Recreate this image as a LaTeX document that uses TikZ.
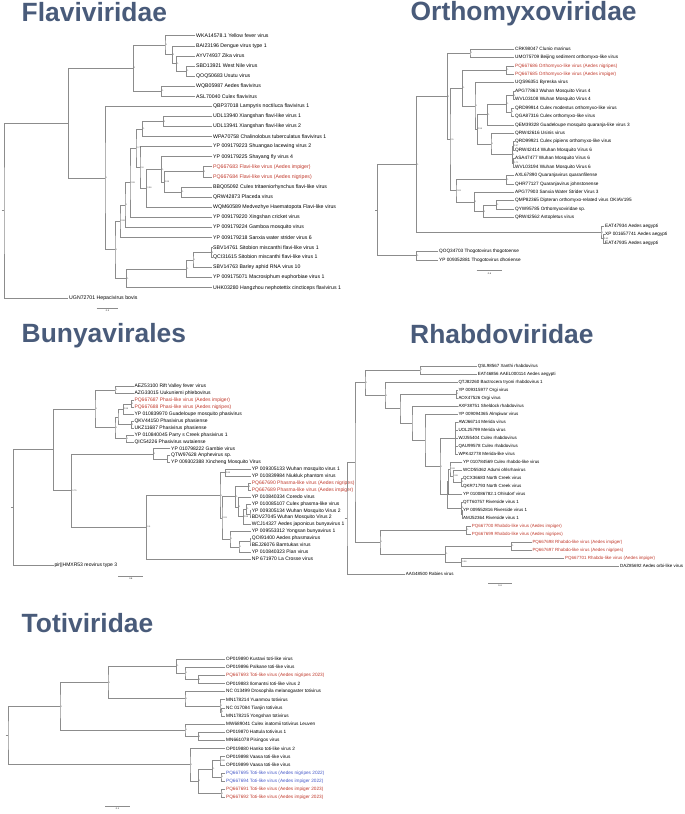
\documentclass[tikz,border=0pt]{standalone}
\usepackage{fontspec}
\setmainfont{Liberation Sans}
\definecolor{titleblue}{RGB}{73,91,122}
\definecolor{branchgray}{RGB}{140,140,140}
\definecolor{aedesred}{RGB}{192,57,43}
\definecolor{aedesblue}{RGB}{70,90,200}
\tikzset{
  branch/.style={draw=branchgray, line width=0.55pt},
  tip/.style={anchor=west, inner sep=0.6pt},
  redtip/.style={tip, text=aedesred},
  bluetip/.style={tip, text=aedesblue},
  supp/.style={anchor=west, inner sep=0.4pt, font=\fontsize{2.2}{2.2}\selectfont, text=black!70},
  scalelab/.style={anchor=north, inner sep=0.6pt, font=\fontsize{2.2}{2.2}\selectfont},
  famtitle/.style={anchor=base west, inner sep=0pt, text=titleblue, font=\fontsize{26.4}{30}\selectfont\bfseries}
}
\begin{document}
\begin{tikzpicture}[x=1pt, y=-1pt]
    \useasboundingbox (0,0) rectangle (685,814);
    \node[famtitle] (tflavi) at (21.5,21.7) {Flaviviridae};
    \node[famtitle] (tortho) at (410.5,20.9) {Orthomyxoviridae};
    \node[famtitle] (tbunya) at (21.5,342.3) {Bunyavirales};
    \node[famtitle] (trhabdo) at (410,343) {Rhabdoviridae};
    \node[famtitle] (ttoti) at (21.5,632) {Totiviridae};

    \begin{scope}[font=\fontsize{5.2}{6}\selectfont]
        \node[tip] (f1) at (195.4,35.7) {WKA14578.1 Yellow fever virus};
        \node[tip] (f2) at (195.4,45.8) {BAI23196 Dengue virus type 1};
        \node[tip] (f3) at (195.4,55.9) {AYV74937 Zika virus};
        \node[tip] (f4) at (195.4,65.9) {SBD13921 West Nile virus};
        \node[tip] (f5) at (195.4,76.0) {QOQ50683 Usutu virus};
        \node[tip] (f6) at (195.4,86.1) {WQB05987 Aedes flavivirus};
        \node[tip] (f7) at (195.4,96.2) {ASL70040 Culex flavivirus};
        \node[tip] (f8) at (212.4,106.3) {QBP37018 Lampyris noctiluca flavivirus 1};
        \node[tip] (f9) at (212.4,116.3) {UDL13940 Xiangshan flavi-like virus 1};
        \node[tip] (f10) at (212.4,126.4) {UDL13941 Xiangshan flavi-like virus 2};
        \node[tip] (f11) at (212.4,136.5) {WPA70758 Chalinolobus tuberculatus flavivirus 1};
        \node[tip] (f12) at (212.4,146.6) {YP 009179223 Shuangao lacewing virus 2};
        \node[tip] (f13) at (212.4,156.7) {YP 009179225 Shayang fly virus 4};
        \node[redtip] (f14) at (212.4,166.7) {PQ667683 Flavi-like virus (Aedes impiger)};
        \node[redtip] (f15) at (212.4,176.8) {PQ667684 Flavi-like virus (Aedes nigripes)};
        \node[tip] (f16) at (212.4,186.9) {BBQ05092 Culex tritaeniorhynchus flavi-like virus};
        \node[tip] (f17) at (212.4,197.0) {QRW42873 Placeda virus};
        \node[tip] (f18) at (212.4,207.1) {WQM60589 Medvezhye Haematopota Flavi-like virus};
        \node[tip] (f19) at (212.4,217.1) {YP 009179220 Xingshan cricket virus};
        \node[tip] (f20) at (212.4,227.2) {YP 009179224 Gamboa mosquito virus};
        \node[tip] (f21) at (212.4,237.3) {YP 009179218 Sanxia water strider virus 6};
        \node[tip] (f22) at (212.4,247.4) {SBV14761 Sitobion miscanthi flavi-like virus 1};
        \node[tip] (f23) at (212.4,257.5) {QCI31615 Sitobion miscanthi flavi-like virus 1};
        \node[tip] (f24) at (212.4,267.5) {SBV14763 Barley aphid RNA virus 10};
        \node[tip] (f25) at (212.4,277.6) {YP 009175071 Macrosiphum euphorbiae virus 1};
        \node[tip] (f26) at (212.4,287.7) {UHK03280 Hangzhou nephotettix cincticeps flavivirus 1};
        \node[tip] (f27) at (68.4,297.8) {UGN72701 Hepacivirus bovis};
    \end{scope}
    \coordinate (fc45) at (186.7,70.95);
    \coordinate (fc35) at (176.7,63.4);
    \coordinate (fc25) at (172.3,54.6);
    \coordinate (fc15) at (165,45.15);
    \coordinate (fc67) at (161.7,91.15);
    \coordinate (fcB) at (133.3,68.15);
    \coordinate (fc910) at (163.3,121.35);
    \coordinate (fcL) at (142.7,128.9);
    \coordinate (fc1415) at (203.3,171.75);
    \coordinate (fc1617) at (181.7,191.95);
    \coordinate (fcO) at (164.3,181.85);
    \coordinate (fcN) at (161.7,169.3);
    \coordinate (fcM) at (146.7,188.2);
    \coordinate (fcP) at (140,167.4);
    \coordinate (fcQ) at (136,148.15);
    \coordinate (fcJ) at (130,182.6);
    \coordinate (fcI) at (125,204.9);
    \coordinate (fcG) at (120,221.1);
    \coordinate (fc2223) at (211.5,252.45);
    \coordinate (fc2224) at (193,260);
    \coordinate (fc2225) at (186.7,268.8);
    \coordinate (fcH) at (126.7,278.25);
    \coordinate (fcF) at (115,249.7);
    \coordinate (fcC) at (105,178);
    \coordinate (fcA) at (68.3,123.1);
    \coordinate (froot) at (4,210.45);
    \coordinate (fstub) at (1.5,210.45);
    \draw[branch] (f4.west) -| (fc45) |- (f5.west);
    \draw[branch] (f3.west) -| (fc35) |- (fc45);
    \draw[branch] (f2.west) -| (fc25) |- (fc35);
    \draw[branch] (f1.west) -| (fc15) |- (fc25);
    \draw[branch] (f6.west) -| (fc67) |- (f7.west);
    \draw[branch] (fc15) -| (fcB) |- (fc67);
    \draw[branch] (f9.west) -| (fc910) |- (f10.west);
    \draw[branch] (fc910) -| (fcL) |- (f11.west);
    \draw[branch] (f14.west) -| (fc1415) |- (f15.west);
    \draw[branch] (f16.west) -| (fc1617) |- (f17.west);
    \draw[branch] (fc1415) -| (fcO) |- (fc1617);
    \draw[branch] (f13.west) -| (fcN) |- (fcO);
    \draw[branch] (fcN) -| (fcM) |- (f18.west);
    \draw[branch] (f12.west) -| (fcP) |- (fcM);
    \draw[branch] (fcL) -| (fcQ) |- (fcP);
    \draw[branch] (fcQ) -| (fcJ) |- (f19.west);
    \draw[branch] (fcJ) -| (fcI) |- (f20.west);
    \draw[branch] (fcI) -| (fcG) |- (f21.west);
    \draw[branch] (f22.west) -| (fc2223) |- (f23.west);
    \draw[branch] (fc2223) -| (fc2224) |- (f24.west);
    \draw[branch] (fc2224) -| (fc2225) |- (f25.west);
    \draw[branch] (fc2225) -| (fcH) |- (f26.west);
    \draw[branch] (fcG) -| (fcF) |- (fcH);
    \draw[branch] (f8.west) -| (fcC) |- (fcF);
    \draw[branch] (fcB) -| (fcA) |- (fcC);
    \draw[branch] (fcA) -| (froot) |- (f27.west);
    \draw[branch] (fstub) -- (froot);
    \node[supp] at (fc45) {1};
    \node[supp] at (fc35) {1};
    \node[supp] at (fc25) {1};
    \node[supp] at (fc15) {1};
    \node[supp] at (fc67) {1};
    \node[supp] at (fcB) {1};
    \node[supp] at (fc910) {1};
    \node[supp] at (fcL) {1};
    \node[supp] at (fcQ) {0.73};
    \node[supp] at (fcP) {0.8};
    \node[supp] at (fcM) {0.96};
    \node[supp] at (fcN) {1};
    \node[supp] at (fcO) {0.99};
    \node[supp] at (fc1415) {1};
    \node[supp] at (fc1617) {1};
    \node[supp] at (fcJ) {0.99};
    \node[supp] at (fcI) {1};
    \node[supp] at (fcG) {0.98};
    \node[supp] at (fc2223) {1};
    \node[supp] at (fc2224) {1};
    \node[supp] at (fc2225) {1};
    \node[supp] at (fcH) {1};
    \node[supp] at (fcF) {1};
    \node[supp] at (fcC) {1};
    \coordinate (fs1) at (96.7,308.3);
    \coordinate (fs2) at (118.3,308.3);
    \draw[branch] (fs1) -- (fs2);
    \node[scalelab] at (107.5,309.3) {0.3};

    \begin{scope}[font=\fontsize{4.7}{5.5}\selectfont]
        \node[tip] (o1) at (514.4,49.0) {CRK98047 Clunio marinus};
        \node[tip] (o2) at (514.4,57.4) {UMO75709 Beijing sediment orthomyxo-like virus};
        \node[redtip] (o3) at (514.4,65.9) {PQ667686 Orthomyxo-like virus (Aedes nigripes)};
        \node[redtip] (o4) at (514.4,74.3) {PQ667685 Orthomyxo-like virus (Aedes impiger)};
        \node[tip] (o5) at (514.4,82.7) {UQS96351 Byreska virus};
        \node[tip] (o6) at (514.4,91.2) {APG77863 Wuhan Mosquito Virus 4};
        \node[tip] (o7) at (514.4,99.6) {WVL03108 Wuhan Mosquito Virus 4};
        \node[tip] (o8) at (514.4,108.0) {QRD99914 Culex modestus orthomyxo-like virus};
        \node[tip] (o9) at (514.4,116.4) {QGA87316 Culex orthomyxo-like virus};
        \node[tip] (o10) at (514.4,124.9) {QEM39328 Guadeloupe mosquito quaranja-like virus 3};
        \node[tip] (o11) at (514.4,133.3) {QRW42616 Usinis virus};
        \node[tip] (o12) at (514.4,141.7) {QRD99921 Culex pipiens orthomyxo-like virus};
        \node[tip] (o13) at (514.4,150.2) {QRW42414 Wuhan Mosquito Virus 6};
        \node[tip] (o14) at (514.4,158.6) {ASA47477 Wuhan Mosquito Virus 6};
        \node[tip] (o15) at (514.4,167.0) {WVL03194 Wuhan Mosquito Virus 6};
        \node[tip] (o16) at (514.4,175.5) {AXL67890 Quaranjavirus quaranfilense};
        \node[tip] (o17) at (514.4,183.9) {QHR77127 Quaranjavirus johnstonense};
        \node[tip] (o18) at (514.4,192.3) {APG77903 Sanxia Water Strider Virus 3};
        \node[tip] (o19) at (514.4,200.7) {QMP82365 Dipteran orthomyxo-related virus OKIAV195};
        \node[tip] (o20) at (514.4,209.2) {QYW95785 Orthomyxoviridae sp.};
        \node[tip] (o21) at (514.4,217.6) {QRW42562 Astopletus virus};
        \node[tip] (o22) at (604.4,226.0) {EAT47934 Aedes aegypti};
        \node[tip] (o23) at (604.4,234.5) {XP 001657741 Aedes aegypti};
        \node[tip] (o24) at (604.4,242.9) {EAT47935 Aedes aegypti};
        \node[tip] (o25) at (438.4,251.3) {QOQ34703 Thogotovirus thogotoense};
        \node[tip] (o26) at (438.4,259.8) {YP 009352881 Thogotovirus dhoriense};
    \end{scope}
    \coordinate (oc12) at (470,53.2);
    \coordinate (oc34) at (506.7,70.1);
    \coordinate (oc67) at (513.5,95.4);
    \coordinate (oc89) at (511,112.2);
    \coordinate (oc69) at (506.7,103.8);
    \coordinate (ocH) at (487.7,114.35);
    \coordinate (oc1213) at (513.5,145.95);
    \coordinate (oc1415) at (513.5,162.8);
    \coordinate (oc1215) at (512.5,154.4);
    \coordinate (ocK) at (491,143.85);
    \coordinate (ocG) at (477.3,129.1);
    \coordinate (ocF) at (475,105.9);
    \coordinate (ocE) at (462.7,88);
    \coordinate (oc1617) at (506.7,179.7);
    \coordinate (oc1920) at (496.7,204.95);
    \coordinate (ocS) at (483.3,211.3);
    \coordinate (ocR) at (474.3,201.8);
    \coordinate (ocP) at (456,190.75);
    \coordinate (ocD) at (450,139.4);
    \coordinate (ocB) at (447.3,96.3);
    \coordinate (oc2324) at (603.5,238.7);
    \coordinate (ocAe) at (601,232.35);
    \coordinate (ocA) at (416.7,164.3);
    \coordinate (ocT) at (416.7,255.55);
    \coordinate (oroot) at (377.7,209.9);
    \coordinate (ostub) at (375.2,209.9);
    \draw[branch] (o1.west) -| (oc12) |- (o2.west);
    \draw[branch] (o3.west) -| (oc34) |- (o4.west);
    \draw[branch] (o6.west) -| (oc67) |- (o7.west);
    \draw[branch] (o8.west) -| (oc89) |- (o9.west);
    \draw[branch] (oc67) -| (oc69) |- (oc89);
    \draw[branch] (oc69) -| (ocH) |- (o10.west);
    \draw[branch] (o12.west) -| (oc1213) |- (o13.west);
    \draw[branch] (o14.west) -| (oc1415) |- (o15.west);
    \draw[branch] (oc1213) -| (oc1215) |- (oc1415);
    \draw[branch] (o11.west) -| (ocK) |- (oc1215);
    \draw[branch] (ocH) -| (ocG) |- (ocK);
    \draw[branch] (o5.west) -| (ocF) |- (ocG);
    \draw[branch] (oc34) -| (ocE) |- (ocF);
    \draw[branch] (o16.west) -| (oc1617) |- (o17.west);
    \draw[branch] (o19.west) -| (oc1920) |- (o20.west);
    \draw[branch] (oc1920) -| (ocS) |- (o21.west);
    \draw[branch] (o18.west) -| (ocR) |- (ocS);
    \draw[branch] (oc1617) -| (ocP) |- (ocR);
    \draw[branch] (ocE) -| (ocD) |- (ocP);
    \draw[branch] (oc12) -| (ocB) |- (ocD);
    \draw[branch] (o23.west) -| (oc2324) |- (o24.west);
    \draw[branch] (o22.west) -| (ocAe) |- (oc2324);
    \draw[branch] (ocB) -| (ocA) |- (ocAe);
    \draw[branch] (o25.west) -| (ocT) |- (o26.west);
    \draw[branch] (ocA) -| (oroot) |- (ocT);
    \draw[branch] (ostub) -- (oroot);
    \node[supp] at (oc12) {1};
    \node[supp] at (oc34) {1};
    \node[supp] at (oc67) {1};
    \node[supp] at (oc89) {1};
    \node[supp] at (oc69) {1};
    \node[supp] at (ocH) {1};
    \node[supp] at (oc1213) {0.97};
    \node[supp] at (oc1415) {0.71};
    \node[supp] at (oc1215) {1};
    \node[supp] at (ocK) {1};
    \node[supp] at (ocG) {0.59};
    \node[supp] at (ocF) {1};
    \node[supp] at (ocE) {1};
    \node[supp] at (oc1617) {1};
    \node[supp] at (oc1920) {1};
    \node[supp] at (ocS) {1};
    \node[supp] at (ocR) {1};
    \node[supp] at (ocP) {0.63};
    \node[supp] at (ocD) {0.5};
    \node[supp] at (ocB) {1};
    \node[supp] at (oc2324) {0.62};
    \node[supp] at (ocAe) {1};
    \node[supp] at (ocA) {1};
    \node[supp] at (ocT) {1};
    \coordinate (os1) at (476.7,270.7);
    \coordinate (os2) at (502.3,270.7);
    \draw[branch] (os1) -- (os2);
    \node[scalelab] at (489.5,271.7) {0.6};

    \begin{scope}[font=\fontsize{5}{5.5}\selectfont]
        \node[tip] (b1) at (133.7,386.7) {AEZ53100 Rift Valley fever virus};
        \node[tip] (b2) at (133.7,393.6) {AZG33015 Uukuniemi phlebovirus};
        \node[redtip] (b3) at (133.7,400.5) {PQ667687 Phasi-like virus (Aedes impiger)};
        \node[redtip] (b4) at (133.7,407.4) {PQ667688 Phasi-like virus (Aedes nigripes)};
        \node[tip] (b5) at (133.7,414.2) {YP 010839970 Guadeloupe mosquito phasivirus};
        \node[tip] (b6) at (133.7,421.1) {QKV44150 Phasivirus phasiense};
        \node[tip] (b7) at (133.7,428.0) {UKZ11687 Phasivirus phasiense};
        \node[tip] (b8) at (133.7,434.9) {YP 010840045 Parry s Creek phasivirus 1};
        \node[tip] (b9) at (133.7,441.8) {QIC54226 Phasivirus wutaiense};
        \node[tip] (b10) at (170.4,448.7) {YP 010798222 Gambie virus};
        \node[tip] (b11) at (170.4,455.6) {QTW97628 Anphevirus sp.};
        \node[tip] (b12) at (170.4,462.4) {YP 009302388 Xincheng Mosquito Virus};
        \node[tip] (b13) at (251.1,469.3) {YP 009305133 Wuhan mosquito virus 1};
        \node[tip] (b14) at (251.1,476.2) {YP 010839984 Niukluk phantom virus};
        \node[redtip] (b15) at (251.1,483.1) {PQ667690 Phasma-like virus (Aedes nigripes)};
        \node[redtip] (b16) at (251.1,490.0) {PQ667689 Phasma-like virus (Aedes impiger)};
        \node[tip] (b17) at (251.1,496.9) {YP 010840334 Coredo virus};
        \node[tip] (b18) at (251.1,503.8) {YP 010085107 Culex phasma-like virus};
        \node[tip] (b19) at (251.1,510.7) {YP 009305134 Wuhan Mosquito Virus 2};
        \node[tip] (b20) at (251.1,517.5) {BDV27045 Wuhan Mosquito Virus 2};
        \node[tip] (b21) at (251.1,524.4) {WCJ14327 Aedes japonicus bunyavirus 1};
        \node[tip] (b22) at (251.1,531.3) {YP 009553312 Yongsan bunyavirus 1};
        \node[tip] (b23) at (251.1,538.2) {QOI91400 Aedes phasmavirus};
        \node[tip] (b24) at (251.1,545.1) {BEJ26076 Bamtukas virus};
        \node[tip] (b25) at (251.1,552.0) {YP 010840323 Pian virus};
        \node[tip] (b26) at (251.1,558.8) {NP 671970 La Crosse virus};
        \node[tip] (b27) at (53.7,565.7) {pir||HMXR53 reovirus type 3};
    \end{scope}
    \coordinate (bc12) at (115,390.15);
    \coordinate (bc34) at (131.5,403.95);
    \coordinate (bcF) at (123.3,409.1);
    \coordinate (bc67) at (131.5,424.55);
    \coordinate (bcE) at (118,416.8);
    \coordinate (bc89) at (126,438.35);
    \coordinate (bcD) at (115,427.6);
    \coordinate (bcB) at (95,408.9);
    \coordinate (bc1112) at (167.7,459);
    \coordinate (bcG) at (153.3,453.85);
    \coordinate (bc1314) at (225.3,472.75);
    \coordinate (bc1516) at (248.3,486.55);
    \coordinate (bc1920) at (250,514.1);
    \coordinate (bcT) at (246.7,508.95);
    \coordinate (bcS) at (243.3,516.7);
    \coordinate (bcO) at (238.3,506.8);
    \coordinate (bcL) at (235.7,496.7);
    \coordinate (bc2324) at (250,541.65);
    \coordinate (bcN) at (239,546.8);
    \coordinate (bcM) at (230,539.05);
    \coordinate (bcK) at (222,517.9);
    \coordinate (bcI) at (220,495.3);
    \coordinate (bcH) at (146.7,527.05);
    \coordinate (bcC) at (71.7,490.45);
    \coordinate (bcA) at (53.3,449.7);
    \coordinate (broot) at (13.3,507.7);
    \coordinate (bstub) at (10.8,507.7);
    \draw[branch] (b1.west) -| (bc12) |- (b2.west);
    \draw[branch] (b3.west) -| (bc34) |- (b4.west);
    \draw[branch] (bc34) -| (bcF) |- (b5.west);
    \draw[branch] (b6.west) -| (bc67) |- (b7.west);
    \draw[branch] (bcF) -| (bcE) |- (bc67);
    \draw[branch] (b8.west) -| (bc89) |- (b9.west);
    \draw[branch] (bcE) -| (bcD) |- (bc89);
    \draw[branch] (bc12) -| (bcB) |- (bcD);
    \draw[branch] (b11.west) -| (bc1112) |- (b12.west);
    \draw[branch] (b10.west) -| (bcG) |- (bc1112);
    \draw[branch] (b13.west) -| (bc1314) |- (b14.west);
    \draw[branch] (b15.west) -| (bc1516) |- (b16.west);
    \draw[branch] (b19.west) -| (bc1920) |- (b20.west);
    \draw[branch] (b18.west) -| (bcT) |- (bc1920);
    \draw[branch] (bcT) -| (bcS) |- (b21.west);
    \draw[branch] (b17.west) -| (bcO) |- (bcS);
    \draw[branch] (bc1516) -| (bcL) |- (bcO);
    \draw[branch] (b23.west) -| (bc2324) |- (b24.west);
    \draw[branch] (bc2324) -| (bcN) |- (b25.west);
    \draw[branch] (b22.west) -| (bcM) |- (bcN);
    \draw[branch] (bcL) -| (bcK) |- (bcM);
    \draw[branch] (bc1314) -| (bcI) |- (bcK);
    \draw[branch] (bcI) -| (bcH) |- (b26.west);
    \draw[branch] (bcG) -| (bcC) |- (bcH);
    \draw[branch] (bcB) -| (bcA) |- (bcC);
    \draw[branch] (bcA) -| (broot) |- (b27.west);
    \draw[branch] (bstub) -- (broot);
    \node[supp] at (bc12) {1};
    \node[supp] at (bc34) {1};
    \node[supp] at (bcF) {0.98};
    \node[supp] at (bc67) {1};
    \node[supp] at (bc89) {1};
    \node[supp] at (bcD) {1};
    \node[supp] at (bcB) {1};
    \node[supp] at (bcG) {1};
    \node[supp] at (bc1314) {0.99};
    \node[supp] at (bc1516) {1};
    \node[supp] at (bcT) {1};
    \node[supp] at (bcS) {0.88};
    \node[supp] at (bcO) {1};
    \node[supp] at (bcL) {1};
    \node[supp] at (bcN) {1};
    \node[supp] at (bcM) {1};
    \node[supp] at (bcK) {0.93};
    \node[supp] at (bcI) {1};
    \node[supp] at (bcH) {0.6};
    \node[supp] at (bcC) {0.75};
    \coordinate (bs1) at (118.3,576);
    \coordinate (bs2) at (143.3,576);
    \draw[branch] (bs1) -- (bs2);
    \node[scalelab] at (130.8,577) {0.8};

    \begin{scope}[font=\fontsize{4.47}{5}\selectfont]
        \node[tip] (r1) at (477.1,366) {QSL98567 Xanthi rhabdovirus};
        \node[tip] (r2) at (477.1,374) {EAT46856 AAEL000114 Aedes aegypti};
        \node[tip] (r3) at (457.7,382) {QTJ82260 Bactrocera tryoni rhabdovirus 1};
        \node[tip] (r4) at (457.7,390) {YP 009315977 Orgi virus};
        \node[tip] (r5) at (457.7,398) {AOX47526 Orgi virus};
        \node[tip] (r6) at (457.7,406) {AXF38751 Sheldock rhabdovirus};
        \node[tip] (r7) at (457.7,414) {YP 009094365 Almpiwar virus};
        \node[tip] (r8) at (457.7,422) {AWJ66714 Merida virus};
        \node[tip] (r9) at (457.7,430) {UOL25799 Merida virus};
        \node[tip] (r10) at (457.7,438) {WJJ55404 Culex rhabdovirus};
        \node[tip] (r11) at (457.7,446) {QAU99578 Culex rhabdovirus};
        \node[tip] (r12) at (457.7,454) {WPK42778 Merida-like virus};
        \node[tip] (r13) at (462.4,462) {YP 010784569 Culex rhabdo-like virus};
        \node[tip] (r14) at (462.4,470) {WCD55362 Adumi ohlsrhavirus};
        \node[tip] (r15) at (462.4,478) {QCX36683 North Creek virus};
        \node[tip] (r16) at (462.4,486) {QKR71793 North Creek virus};
        \node[tip] (r17) at (462.4,494) {YP 010086782.1 Ohlsdorf virus};
        \node[tip] (r18) at (462.4,502) {QTT60757 Riverside virus 1};
        \node[tip] (r19) at (462.4,510) {YP 009552816 Riverside virus 1};
        \node[tip] (r20) at (462.4,518) {AMJ52364 Riverside virus 1};
        \node[redtip] (r21) at (471.1,526) {PQ667700 Rhabdo-like virus (Aedes impiger)};
        \node[redtip] (r22) at (471.1,534) {PQ667699 Rhabdo-like virus (Aedes nigripes)};
        \node[redtip] (r23) at (531.7,542) {PQ667698 Rhabdo-like virus (Aedes impiger)};
        \node[redtip] (r24) at (531.7,550) {PQ667697 Rhabdo-like virus (Aedes nigripes)};
        \node[redtip] (r25) at (564.4,558) {PQ667701 Rhabdo-like virus (Aedes impiger)};
        \node[tip] (r26) at (619.4,566) {DAZ85692 Aedes orbi-like virus};
        \node[tip] (r27) at (405,574) {AAG48500 Rabies virus};
    \end{scope}
    \coordinate (rc12) at (420,370);
    \coordinate (rc45) at (456.5,394);
    \coordinate (rc812) at (455.5,438);
    \coordinate (rc1516) at (461.7,482);
    \coordinate (rcI2) at (453,476);
    \coordinate (rcI) at (450,469);
    \coordinate (rcK) at (448.5,481.5);
    \coordinate (rc1920) at (461.8,514);
    \coordinate (rc1820) at (461.5,508);
    \coordinate (rcG) at (447.3,494.75);
    \coordinate (rcV) at (440,466.4);
    \coordinate (rcW) at (425,440.2);
    \coordinate (rcZ) at (412,423.1);
    \coordinate (rcY) at (400,408.55);
    \coordinate (rcX) at (385,395.3);
    \coordinate (rcB) at (365,382.6);
    \coordinate (rc2122) at (466.7,530);
    \coordinate (rc2324) at (511.7,546);
    \coordinate (rcF) at (461.7,562);
    \coordinate (rcE) at (445.7,554);
    \coordinate (rcC) at (380,542);
    \coordinate (rcA) at (355,462.3);
    \coordinate (rroot) at (347,518.2);
    \coordinate (rstub) at (344.5,518.2);
    \draw[branch] (r1.west) -| (rc12) |- (r2.west);
    \draw[branch] (r4.west) -| (rc45) |- (r5.west);
    \draw[branch] (r8.west) -| (rc812) |- (r12.west);
    \draw[branch] (r9.west) -| (rc812);
    \draw[branch] (r10.west) -- (rc812);
    \draw[branch] (r11.west) -| (rc812);
    \draw[branch] (r15.west) -| (rc1516) |- (r16.west);
    \draw[branch] (r14.west) -| (rcI2) |- (rc1516);
    \draw[branch] (r13.west) -| (rcI) |- (rcI2);
    \draw[branch] (rcI) -| (rcK) |- (r17.west);
    \draw[branch] (r19.west) -| (rc1920) |- (r20.west);
    \draw[branch] (r18.west) -| (rc1820) |- (rc1920);
    \draw[branch] (rcK) -| (rcG) |- (rc1820);
    \draw[branch] (rc812) -| (rcV) |- (rcG);
    \draw[branch] (r7.west) -| (rcW) |- (rcV);
    \draw[branch] (r6.west) -| (rcZ) |- (rcW);
    \draw[branch] (rc45) -| (rcY) |- (rcZ);
    \draw[branch] (r3.west) -| (rcX) |- (rcY);
    \draw[branch] (rc12) -| (rcB) |- (rcX);
    \draw[branch] (r21.west) -| (rc2122) |- (r22.west);
    \draw[branch] (r23.west) -| (rc2324) |- (r24.west);
    \draw[branch] (r25.west) -| (rcF) |- (r26.west);
    \draw[branch] (rc2324) -| (rcE) |- (rcF);
    \draw[branch] (rc2122) -| (rcC) |- (rcE);
    \draw[branch] (rcB) -| (rcA) |- (rcC);
    \draw[branch] (rcA) -| (rroot) |- (r27.west);
    \draw[branch] (rstub) -- (rroot);
    \node[supp] at (rc12) {1};
    \node[supp] at (rc45) {1};
    \node[supp] at (rc1516) {1};
    \node[supp] at (rcI2) {0.96};
    \node[supp] at (rcI) {0.99};
    \node[supp] at (rc1820) {1};
    \node[supp] at (rcG) {1};
    \node[supp] at (rcV) {1};
    \node[supp] at (rcX) {1};
    \node[supp] at (rcB) {1};
    \node[supp] at (rc2122) {1};
    \node[supp] at (rc2324) {1};
    \node[supp] at (rcF) {0.56};
    \node[supp] at (rcE) {1};
    \node[supp] at (rcC) {1};
    \coordinate (rs1) at (488.3,583.3);
    \coordinate (rs2) at (511.7,583.3);
    \draw[branch] (rs1) -- (rs2);
    \node[scalelab] at (500,584.3) {0.4};

    \begin{scope}[font=\fontsize{4.7}{5.5}\selectfont]
        \node[tip] (t1) at (225.4,659.0) {OP019890 Kustavi toti-like virus};
        \node[tip] (t2) at (225.4,667.1) {OP019896 Palkane toti-like virus};
        \node[redtip] (t3) at (225.4,675.3) {PQ667693 Toti-like virus (Aedes nigripes 2023)};
        \node[tip] (t4) at (225.4,683.4) {OP019883 Ilomantsi toti-like virus 2};
        \node[tip] (t5) at (225.4,691.5) {NC 013499 Drosophila melanogaster totivirus};
        \node[tip] (t6) at (225.4,699.7) {MN178214 Yuanmou totivirus};
        \node[tip] (t7) at (225.4,707.8) {NC 017084 Tianjin totivirus};
        \node[tip] (t8) at (225.4,715.9) {MN178215 Yongshan totivirus};
        \node[tip] (t9) at (225.4,724.1) {MW689041 Culex inatomii totivirus Leuven};
        \node[tip] (t10) at (225.4,732.2) {OP019870 Hattula totivirus 1};
        \node[tip] (t11) at (225.4,740.4) {MN661078 Pisingos virus};
        \node[tip] (t12) at (225.4,748.5) {OP019880 Hanko toti-like virus 2};
        \node[tip] (t13) at (225.4,756.6) {OP019898 Vaasa toti-like virus};
        \node[tip] (t14) at (225.4,764.8) {OP019899 Vaasa toti-like virus};
        \node[bluetip] (t15) at (225.4,772.9) {PQ667695 Toti-like virus (Aedes nigripes 2022)};
        \node[bluetip] (t16) at (225.4,781.0) {PQ667694 Toti-like virus (Aedes impiger 2022)};
        \node[redtip] (t17) at (225.4,789.2) {PQ667691 Toti-like virus (Aedes impiger 2023)};
        \node[redtip] (t18) at (225.4,797.3) {PQ667692 Toti-like virus (Aedes impiger 2023)};
    \end{scope}
    \coordinate (tc34) at (198.3,679.35);
    \coordinate (tc24) at (185,673.2);
    \coordinate (tc14) at (176.7,666.1);
    \coordinate (tc78) at (221,711.85);
    \coordinate (tc68) at (220,705.8);
    \coordinate (tc58) at (185,698.65);
    \coordinate (tc1011) at (198.3,736.3);
    \coordinate (tc911) at (185,730.2);
    \coordinate (tc1314) at (220,760.7);
    \coordinate (tc1516) at (221,776.95);
    \coordinate (tcR) at (212.7,768.8);
    \coordinate (tc1718) at (221,793.25);
    \coordinate (tcP) at (198.3,781);
    \coordinate (tc1218) at (190,764.75);
    \coordinate (tcV) at (108,682.4);
    \coordinate (tcU) at (60,706.3);
    \coordinate (troot) at (8,735.5);
    \coordinate (tstub) at (5.5,735.5);
    \draw[branch] (t3.west) -| (tc34) |- (t4.west);
    \draw[branch] (t2.west) -| (tc24) |- (tc34);
    \draw[branch] (t1.west) -| (tc14) |- (tc24);
    \draw[branch] (t7.west) -| (tc78) |- (t8.west);
    \draw[branch] (t6.west) -| (tc68) |- (tc78);
    \draw[branch] (t5.west) -| (tc58) |- (tc68);
    \draw[branch] (tc14) -| (tcV) |- (tc58);
    \draw[branch] (t10.west) -| (tc1011) |- (t11.west);
    \draw[branch] (t9.west) -| (tc911) |- (tc1011);
    \draw[branch] (tcV) -| (tcU) |- (tc911);
    \draw[branch] (t13.west) -| (tc1314) |- (t14.west);
    \draw[branch] (t15.west) -| (tc1516) |- (t16.west);
    \draw[branch] (tc1314) -| (tcR) |- (tc1516);
    \draw[branch] (t17.west) -| (tc1718) |- (t18.west);
    \draw[branch] (tcR) -| (tcP) |- (tc1718);
    \draw[branch] (t12.west) -| (tc1218) |- (tcP);
    \draw[branch] (tcU) -| (troot) |- (tc1218);
    \draw[branch] (tstub) -- (troot);
    \node[supp] at (tc34) {1};
    \node[supp] at (tc24) {1};
    \node[supp] at (tc14) {1};
    \node[supp] at (tc78) {1};
    \node[supp] at (tc68) {1};
    \node[supp] at (tc58) {1};
    \node[supp] at (tc1011) {1};
    \node[supp] at (tc911) {1};
    \node[supp] at (tc1314) {0.96};
    \node[supp] at (tc1516) {1};
    \node[supp] at (tcR) {1};
    \node[supp] at (tc1718) {1};
    \node[supp] at (tcP) {1};
    \node[supp] at (tc1218) {1};
    \node[supp] at (tcV) {1};
    \node[supp] at (tcU) {1};
    \coordinate (ts1) at (105,806);
    \coordinate (ts2) at (130,806);
    \draw[branch] (ts1) -- (ts2);
    \node[scalelab] at (117.5,807) {0.1};
\end{tikzpicture}
\end{document}
